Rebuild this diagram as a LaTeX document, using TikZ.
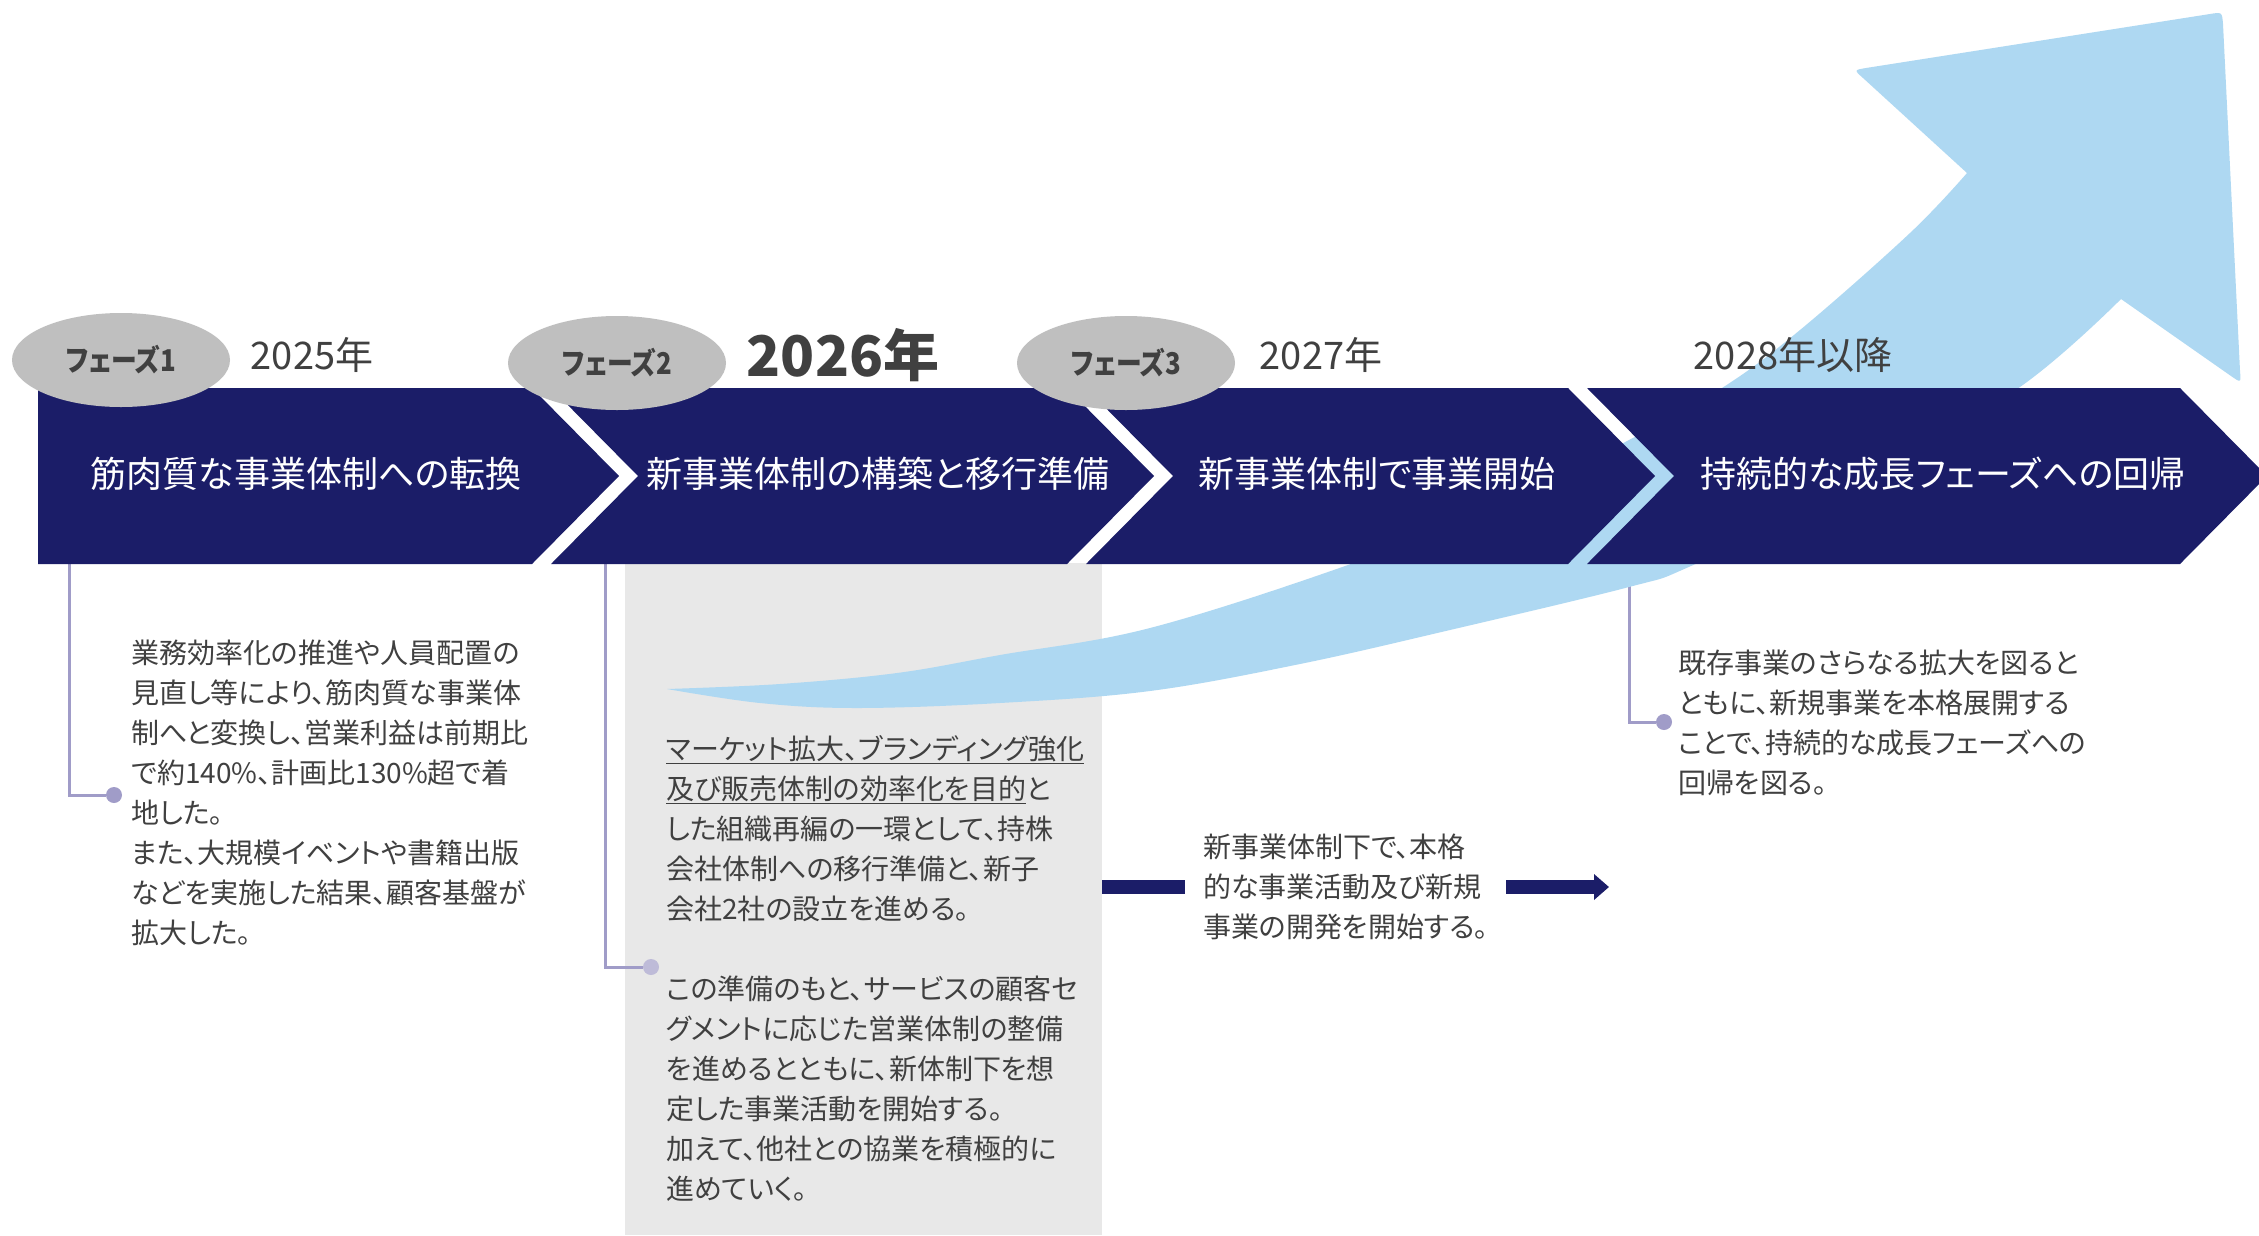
\documentclass[tikz,border=0pt]{standalone}
\usepackage{fontspec}
\newfontfamily\jp[RawFeature=+palt]{Noto Sans CJK JP}
\newfontfamily\jpc[RawFeature=+palt,FakeStretch=0.86]{Noto Sans CJK JP}
\usetikzlibrary{arrows.meta,shapes.geometric}
\definecolor{navy}{RGB}{27,29,104}
\definecolor{lblue}{RGB}{174,216,242}
\definecolor{pgray}{RGB}{191,191,191}
\definecolor{rgray}{RGB}{232,232,232}
\definecolor{tgray}{RGB}{64,64,64}
\definecolor{lav}{RGB}{160,156,200}
\definecolor{lavlight}{RGB}{190,187,216}
\newcommand\myul[1]{\setbox0\hbox{#1}\rlap{\rule[-5pt]{\wd0}{1.6pt}}\box0}
\begin{document}
\begin{tikzpicture}[x=1pt,y=-1pt,
  band/.style={fill=navy},
  chevtext/.style={text=white,inner sep=0,font=\jp\fontsize{36}{40}\selectfont},
  phase/.style={ellipse,fill=pgray,minimum width=218pt,minimum height=94pt,inner sep=0,text=tgray,font=\jpc\bfseries\fontsize{30}{32}\selectfont},
  year/.style={text=tgray,inner sep=0,font=\jp\fontsize{38}{40}\selectfont},
  bigyear/.style={text=tgray,inner sep=0,font=\jp\bfseries\fontsize{56}{60}\selectfont},
  body/.style={text=tgray,inner sep=0,anchor=north west,align=left,font=\jp\fontsize{28}{40}\selectfont},
  conn/.style={draw=lav,line width=3pt},
  dotnode/.style={circle,fill=lav,minimum size=16pt,inner sep=0},
  navyarrow/.style={draw=navy,line width=14pt},
]
\useasboundingbox (0,0) rectangle (2259,1235);
\clip (0,0) rectangle (2259,1235);
\fill[white] (0,0) rectangle (2259,1235);

% gray panel under phase 2
\fill[rgray] (625,563) rectangle (1102,1235);

% connectors with dots
\coordinate (c1) at (69,564);
\node[dotnode] (d1) at (114,795) {};
\draw[conn] (c1) |- (d1);
\coordinate (c2) at (605,564);
\node[dotnode,fill=lavlight] (d2) at (651,967) {};
\draw[conn] (c2) |- (d2);
\coordinate (c4) at (1629,564);
\node[dotnode] (d4) at (1664,722) {};
\draw[conn] (c4) |- (d4);

% big light blue arrow
\fill[lblue] plot[smooth,tension=0.6] coordinates {(667,689) (780,684) (897,673) (1000,655) (1150,628) (1348,565) (1500,505) (1629,440) (1722,388) (1800,330) (1910,233) (1967,173)}
  -- (1863,78) .. controls (1854,70) .. (1866,68)
  -- (2210,14) .. controls (2222,12) .. (2223,24)
  -- (2240,371) .. controls (2241,383) .. (2231,376)
  -- (2121,299)
  -- plot[smooth,tension=0.6] coordinates {(2121,299) (2020,387) (1850,490) (1691,566) (1629,587) (1450,630) (1300,664) (1150,691) (1000,703) (857,708) (760,703) (667,689)} -- cycle;

% chevron band
\fill[band] (38,388) -- (532,388) -- (619,476) -- (532,564) -- (38,564) -- cycle;
\fill[band] (551,388) -- (1067,388) -- (1154,476) -- (1067,564) -- (551,564) -- (638,476) -- cycle;
\fill[band] (1086,388) -- (1568,388) -- (1655,476) -- (1568,564) -- (1086,564) -- (1173,476) -- cycle;
\fill[band] (1587,388) -- (2180,388) -- (2267,476) -- (2180,564) -- (1587,564) -- (1674,476) -- cycle;

\node[chevtext] (t1) at (306,474) {筋肉質な事業体制への転換};
\node[chevtext] (t2) at (878,474) {新事業体制の構築と移行準備};
\node[chevtext] (t3) at (1377,474) {新事業体制で事業開始};
\node[chevtext] (t4) at (1943,474) {持続的な成長フェーズへの回帰};

% phase ellipses
\node[phase] (p1) at (121,360) {フェーズ1};
\node[phase] (p2) at (617,363) {フェーズ2};
\node[phase] (p3) at (1126,363) {フェーズ3};

% years
\node[year] (y1) at (312,355) {2025年};
\node[bigyear] (y2) at (843,355) {2026年};
\node[year] (y3) at (1321,355) {2027年};
\node[year] (y4) at (1793,355) {2028年以降};

% body texts
\node[body] (b1) at (131,640) {業務効率化の推進や人員配置の\\見直し等により、筋肉質な事業体\\制へと変換し、営業利益は前期比\\で約140\%、計画比130\%超で着\\地した。\\また、大規模イベントや書籍出版\\などを実施した結果、顧客基盤が\\拡大した。};
\node[body] (b2) at (666,735) {\myul{マーケット拡大、ブランディング強化}\\\myul{及び販売体制の効率化を目的}と\\した組織再編の一環として、持株\\会社体制への移行準備と、新子\\会社2社の設立を進める。\\[40pt]この準備のもと、サービスの顧客セ\\グメントに応じた営業体制の整備\\を進めるとともに、新体制下を想\\定した事業活動を開始する。\\加えて、他社との協業を積極的に\\進めていく。};
\node[body] (b3) at (1203,834) {新事業体制下で、本格\\的な事業活動及び新規\\事業の開発を開始する。};
\node[body] (b4) at (1678,650) {既存事業のさらなる拡大を図ると\\ともに、新規事業を本格展開する\\ことで、持続的な成長フェーズへの\\回帰を図る。};

% navy arrows around phase 3 text
\coordinate (a1) at (1102,887);
\coordinate (a2) at (1185,887);
\draw[navyarrow] (a1) -- (a2);
\coordinate (a3) at (1506,887);
\coordinate (a4) at (1609,887);
\draw[navyarrow,-{Triangle[width=25pt 0,length=15pt 0]}] (a3) -- (a4);
\end{tikzpicture}
\end{document}
